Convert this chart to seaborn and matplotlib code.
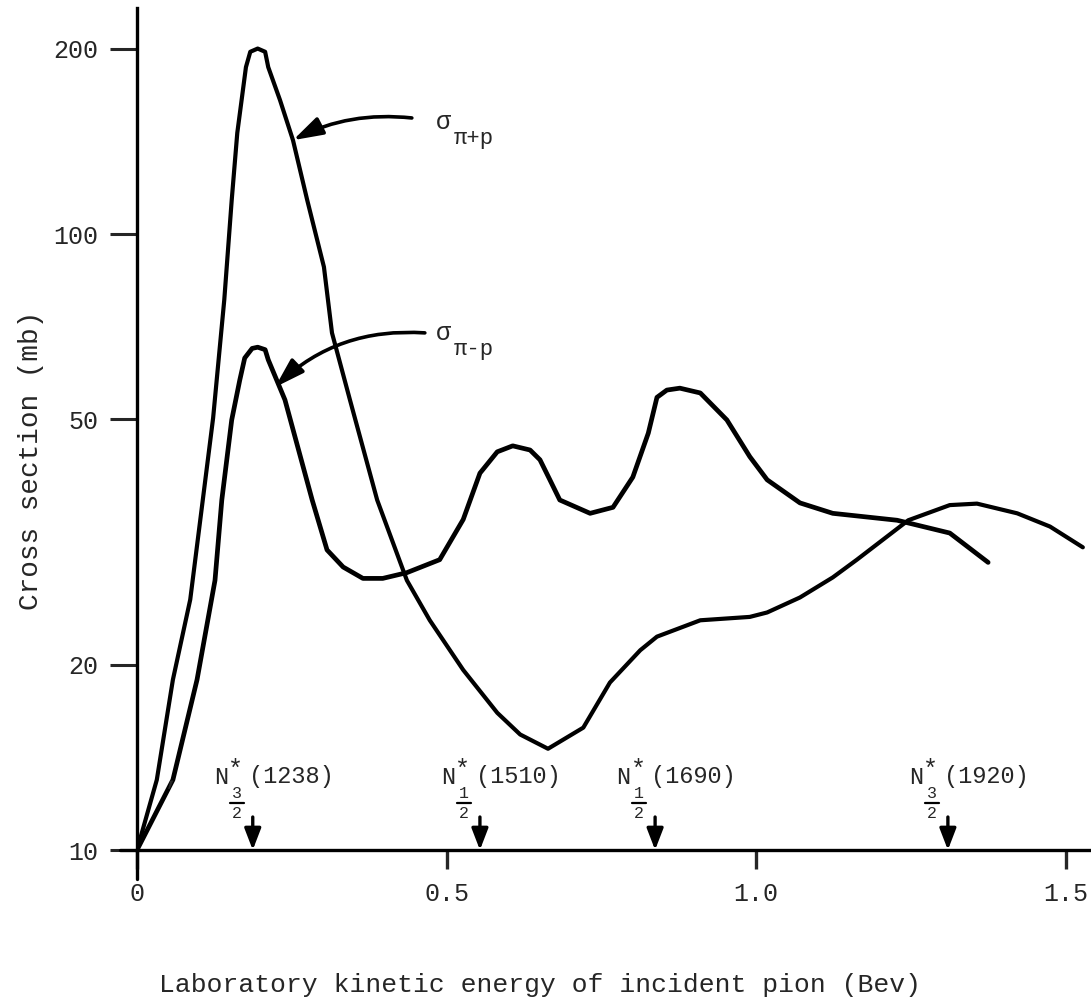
import numpy as np
import pandas as pd
import matplotlib
matplotlib.use("Agg")
import matplotlib.pyplot as plt
import seaborn as sns
from matplotlib.transforms import offset_copy, IdentityTransform
from matplotlib.lines import Line2D
from matplotlib.ticker import NullLocator

# ---------------- data ----------------
pip_energy = [0.0, 0.032, 0.058, 0.086, 0.123, 0.141, 0.153, 0.162, 0.176, 0.183,
              0.195, 0.207, 0.212, 0.231, 0.252, 0.275, 0.302, 0.315, 0.344, 0.388,
              0.436, 0.473, 0.527, 0.582, 0.619, 0.664, 0.721, 0.764, 0.813, 0.840,
              0.910, 0.990, 1.018, 1.071, 1.124, 1.163, 1.246, 1.313, 1.357, 1.422,
              1.475, 1.528]
pip_sigma = [10.0, 13.0, 18.9, 25.5, 50.3, 78.2, 113.5, 145.9, 186.6, 197.6,
             200.0, 197.6, 186.6, 165.0, 142.0, 113.5, 88.4, 69.1, 53.8, 37.0,
             27.4, 23.6, 19.6, 16.7, 15.4, 14.6, 15.8, 18.7, 21.1, 22.2,
             23.6, 23.9, 24.3, 25.7, 27.7, 29.6, 34.3, 36.3, 36.5, 35.2,
             33.5, 31.0]

pim_energy = [0.0, 0.058, 0.097, 0.126, 0.137, 0.153, 0.166, 0.174, 0.186, 0.195,
              0.207, 0.212, 0.239, 0.283, 0.307, 0.333, 0.365, 0.397, 0.436, 0.489,
              0.527, 0.554, 0.582, 0.607, 0.635, 0.651, 0.667, 0.683, 0.732, 0.769,
              0.801, 0.826, 0.840, 0.856, 0.877, 0.910, 0.953, 0.990, 1.018, 1.071,
              1.124, 1.228, 1.313, 1.375]
pim_sigma = [10.0, 13.0, 18.9, 27.4, 37.0, 49.9, 57.9, 62.9, 65.2, 65.5,
             64.9, 62.5, 53.8, 37.0, 30.7, 28.8, 27.6, 27.6, 28.2, 29.6,
             34.4, 40.9, 44.3, 45.3, 44.6, 43.0, 39.9, 37.0, 35.2, 36.0,
             40.3, 47.5, 54.3, 55.8, 56.2, 55.2, 49.9, 43.5, 39.9, 36.6,
             35.2, 34.3, 32.7, 29.3]

y_ticks = [10, 20, 50, 100, 200]
y_tick_labels = ["10", "20", "50", "100", "200"]
x_ticks = [0.0, 0.5, 1.0, 1.5]
x_tick_labels = ["0", "0.5", "1.0", "1.5"]

resonance_energy = [0.187, 0.554, 0.837, 1.310]
resonance_mass = ["(1238)", "(1510)", "(1690)", "(1920)"]
resonance_isospin = [("3", "2"), ("1", "2"), ("1", "2"), ("3", "2")]

pip_arrow_tip = (0.252, 142.0)
pip_arrow_tail = (0.444, 154.3)
pim_arrow_tip = (0.223, 56.4)
pim_arrow_tail = (0.465, 69.1)
pip_label_pos = (0.495, 152.0)
pim_label_pos = (0.495, 69.1)

x_label = "Laboratory kinetic energy of incident pion (Bev)"
y_label = "Cross section (mb)"

# ---------------- style ----------------
sns.set_style("white")
plt.rcParams["font.family"] = ["Liberation Mono", "DejaVu Sans"]

W, H = 1091, 1006
fig = plt.figure(figsize=(W / 100, H / 100), dpi=100)
ax = fig.add_axes([137 / W, 156 / H, 953 / W, 842 / H])
ax.set_yscale("log")
ax.set_xlim(0, 953 / 619)
ax.set_ylim(10, 10 * 10 ** (842 / 616))

df_p = pd.DataFrame({"E": pip_energy, "sigma": pip_sigma})
df_m = pd.DataFrame({"E": pim_energy, "sigma": pim_sigma})
sns.lineplot(data=df_p, x="E", y="sigma", ax=ax, color="black", linewidth=3.0,
             sort=False, estimator=None, solid_joinstyle="round", solid_capstyle="round")
sns.lineplot(data=df_m, x="E", y="sigma", ax=ax, color="black", linewidth=3.4,
             sort=False, estimator=None, solid_joinstyle="round", solid_capstyle="round")

for s in ["top", "right"]:
    ax.spines[s].set_visible(False)
for s in ["left", "bottom"]:
    ax.spines[s].set_linewidth(2.4)
    ax.spines[s].set_color("black")

ax.set_yticks(y_ticks)
ax.set_yticklabels(y_tick_labels)
ax.yaxis.set_minor_locator(NullLocator())
ax.set_xticks(x_ticks)
ax.set_xticklabels(x_tick_labels)
ax.tick_params(axis="y", direction="out", length=19.5, width=2.2, pad=8.5,
               labelsize=18, left=True)
ax.tick_params(axis="x", direction="out", length=14, width=2.4, pad=9,
               labelsize=18, bottom=True)
ax.set_xlabel("")
ax.set_ylabel("")

# small extensions of the axes past the origin
ax.add_line(Line2D([0, 0], [0, -0.035], transform=ax.transAxes, color="black",
                   lw=2.4, clip_on=False))
ax.add_line(Line2D([-0.018, 0], [0, 0], transform=ax.transAxes, color="black",
                   lw=2.4, clip_on=False))

# curve labels with arrows
arrow_kw = dict(arrowstyle="-|>,head_length=0.9,head_width=0.28", color="black",
                lw=2.6, mutation_scale=20, shrinkA=0, shrinkB=0)
ax.annotate("", xy=pip_arrow_tip, xytext=pip_arrow_tail,
            arrowprops=dict(connectionstyle="arc3,rad=0.15", **arrow_kw))
ax.annotate("", xy=pim_arrow_tip, xytext=pim_arrow_tail,
            arrowprops=dict(connectionstyle="arc3,rad=0.22", **arrow_kw))


def off(dx_px, dy_px):
    return offset_copy(ax.transData, fig=fig, x=dx_px * 0.72, y=dy_px * 0.72, units="points")


for (lx, ly), sub in [(pip_label_pos, "π+p"), (pim_label_pos, "π-p")]:
    ax.text(lx, ly, "σ", transform=off(0, 0), ha="center", va="center", fontsize=18)
    ax.text(lx, ly, sub, transform=off(10, -17), ha="left", va="center", fontsize=16)

# resonance markers
for E, mass, (num, den) in zip(resonance_energy, resonance_mass, resonance_isospin):
    ax.annotate("", xy=(E, 10), xytext=(0, 33 * 0.72), textcoords="offset points",
                arrowprops=dict(arrowstyle="-|>,head_length=0.65,head_width=0.25",
                                color="black", lw=2.4, mutation_scale=20,
                                shrinkA=0, shrinkB=0))
    ax.text(E, 10, "N", transform=off(-32, 73), ha="center", va="center", fontsize=17)
    ax.text(E, 10, "*", transform=off(-17, 80), ha="center", va="center", fontsize=18)
    ax.text(E, 10, mass, transform=off(-4, 73), ha="left", va="center", fontsize=17)
    ax.text(E, 10, num, transform=off(-16, 56), ha="center", va="center", fontsize=12)
    ax.text(E, 10, den, transform=off(-16, 37), ha="center", va="center", fontsize=12)
    p = ax.transData.transform((E, 10))
    fig.add_artist(Line2D([p[0] - 23, p[0] - 9], [p[1] + 47, p[1] + 47],
                          transform=IdentityTransform(), color="black", lw=1.6))

ax.text(resonance_energy[0], 10, ",", transform=off(-80, 73), ha="center",
        va="center", fontsize=18)

fig.text(540 / W, 1 - 985 / H, x_label, ha="center", va="center", fontsize=19)
fig.text(31 / W, 1 - 460 / H, y_label, ha="center", va="center", fontsize=20,
         rotation=90)

fig.savefig("out.png", dpi=100, facecolor="white")
